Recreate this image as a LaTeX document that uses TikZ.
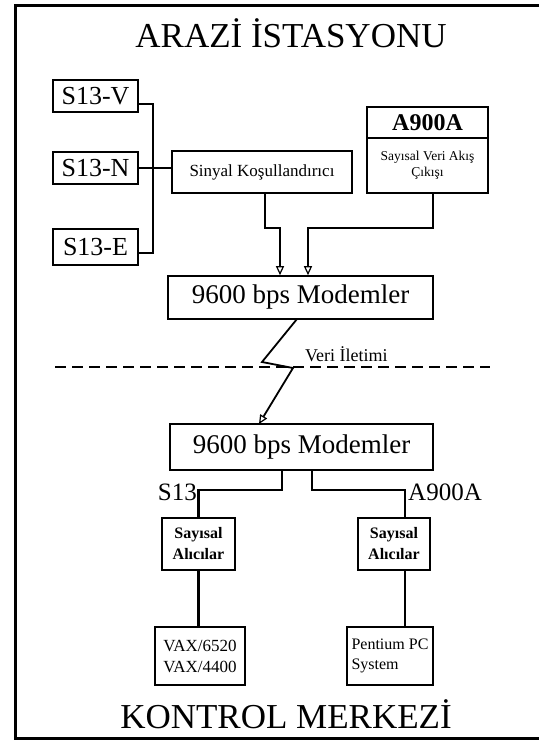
\documentclass[tikz,border=0pt]{standalone}
\usepackage{fontspec}
\setmainfont{Liberation Serif}
\usetikzlibrary{arrows.meta}
\begin{document}
\begin{tikzpicture}[x=1pt,y=-1pt,
  box/.style={draw, line width=1.6pt, inner sep=0pt, align=center},
  wire/.style={line width=2.2pt},
  tip/.style={-{Triangle[open, length=9pt, width=8pt, line width=1.2pt]}},
  fs/.style={font=\fontsize{#1}{#1}\selectfont},
  fsb/.style={font=\fontsize{#1}{#1}\selectfont\bfseries}]
\useasboundingbox (0,0) rectangle (539,747);
% frame
\coordinate (f1) at (539,5);
\coordinate (f2) at (15,5);
\coordinate (f3) at (15,738);
\coordinate (f4) at (539,738);
\draw[line width=3pt] (f1) -- (f2) -- (f3) -- (f4);
% titles
\node[fs=35, anchor=base] (title) at (291,47) {ARAZİ İSTASYONU};
\node[fs=35, anchor=base] (bottomtitle) at (286,728) {KONTROL MERKEZİ};
% field station
\node[box, fs=26, minimum width=85pt, minimum height=32pt] (s13v) at (95.5,96) {S13-V};
\node[box, fs=26, minimum width=85pt, minimum height=32pt] (s13n) at (95.5,168) {S13-N};
\node[box, fs=26, minimum width=85pt, minimum height=36pt] (s13e) at (95.5,247) {S13-E};
\node[box, fs=17, minimum width=180pt, minimum height=42pt] (sinyal) at (262,172) {Sinyal Koşullandırıcı};
\node[box, fsb=24, minimum width=121pt, minimum height=31pt] (a9top) at (427.5,122.5) {A900A};
\node[box, font=\fontsize{13.5}{16}\selectfont, minimum width=121pt, minimum height=55pt] (a9bot) at (427.5,165.5) {Sayısal Veri Akış\\Çıkışı};
\node[box, fs=27, minimum width=265pt, minimum height=43pt] (modem1) at (300.5,297.5) {9600 bps Modemler};
% bus
\coordinate (busT) at (153,104);
\coordinate (busB) at (153,253);
\draw[wire] (s13v.east |- busT) -- (busT) -- (busB) -- (s13e.east |- busB);
\draw[wire] (s13n.east) -- (s13n.east -| sinyal.west);
% to modem
\coordinate (a1) at (265,228);
\coordinate (a2) at (280,228);
\draw[wire, tip] (sinyal.south -| a1) -- (a1) -- (a2) -- (a2 |- modem1.north);
\coordinate (b1) at (433,228);
\coordinate (b2) at (308,228);
\draw[wire, tip] (a9bot.south -| b1) -- (b1) -- (b2) -- (b2 |- modem1.north);
% transmission
\coordinate (d1) at (55,367);
\coordinate (d2) at (490,367);
\draw[line width=1.5pt, dash pattern=on 11pt off 6pt] (d1) -- (d2);
\node[fs=18, anchor=base west, inner sep=0pt] (veri) at (305,361) {Veri İletimi};
\node[box, fs=27, minimum width=263pt, minimum height=46pt] (modem2) at (301.5,447) {9600 bps Modemler};
\coordinate (z0) at (297,319);
\coordinate (z1) at (262,362);
\coordinate (z2) at (293,368);
\coordinate (z3) at (259,424);
\draw[wire, line width=1.8pt, tip] (z0) -- (z1) -- (z2) -- (z3);
% control center
\node[box, font=\fontsize{16}{21}\selectfont\bfseries, minimum width=73pt, minimum height=52pt] (sayl) at (198.5,544) {Sayısal\\Alıcılar};
\node[box, font=\fontsize{16}{21}\selectfont\bfseries, minimum width=72pt, minimum height=52pt] (sayr) at (394,544) {Sayısal\\Alıcılar};
\node[box, font=\fontsize{17}{21}\selectfont, minimum width=90pt, minimum height=58pt] (vax) at (200,656) {VAX/6520\\VAX/4400};
\node[box, font=\fontsize{16}{20}\selectfont, minimum width=86pt, minimum height=58pt, align=left] (pent) at (390,656) {Pentium PC\\System};
\coordinate (c0) at (282,470);
\coordinate (c1) at (282,490);
\coordinate (c2) at (198.5,490);
\draw[wire] (c0) -- (c1) -- (c2) -- (sayl.north);
\coordinate (e0) at (312,470);
\coordinate (e1) at (312,490);
\coordinate (e2) at (405,490);
\draw[wire] (e0) -- (e1) -- (e2) -- (e2 |- sayr.north);
\node[fs=25, anchor=base east, inner sep=0pt] (s13lbl) at (197,500) {S13};
\node[fs=25, anchor=base west, inner sep=0pt] (a9lbl) at (408,500) {A900A};
\draw[wire] (sayl.south) -- (sayl.south |- vax.north);
\draw[wire] (e2 |- sayr.south) -- (e2 |- pent.north);
\end{tikzpicture}
\end{document}
